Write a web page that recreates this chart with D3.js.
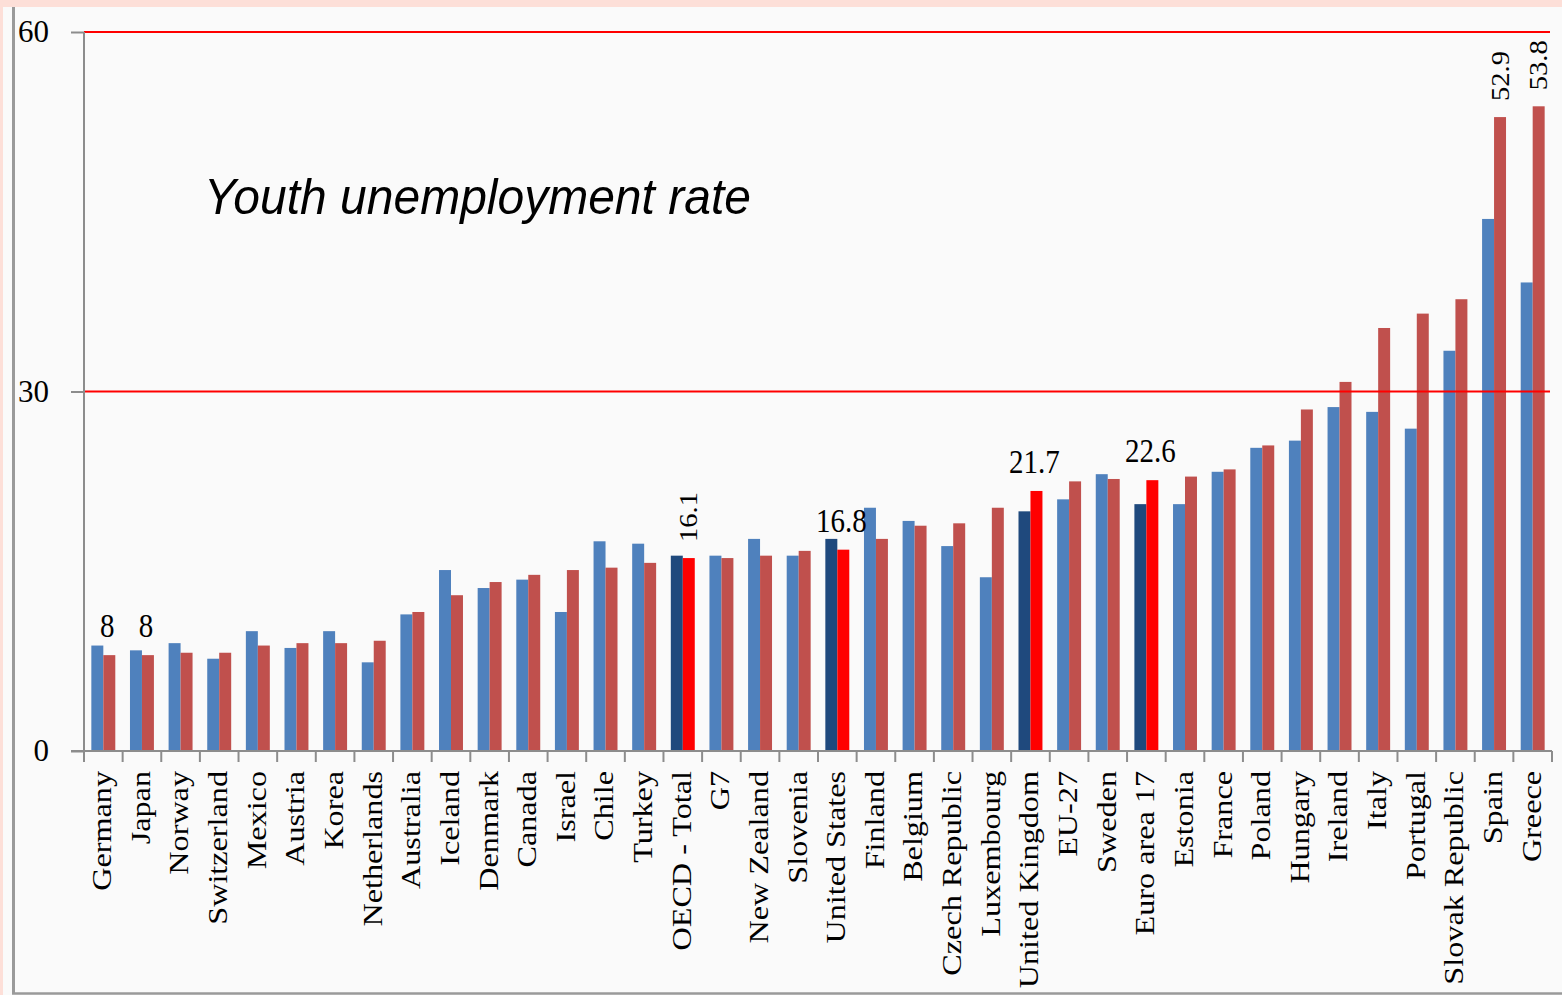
<!DOCTYPE html>
<html>
<head>
<meta charset="utf-8">
<script src="https://cdn.jsdelivr.net/npm/d3@7"></script>
<style>
  html, body { margin: 0; padding: 0; background: #FDDFD8; }
  svg { display: block; }
</style>
</head>
<body>
<svg id="chart" width="1562" height="995"></svg>
<script>
// ---- data ----
const categories = ["Germany","Japan","Norway","Switzerland","Mexico","Austria","Korea","Netherlands","Australia","Iceland","Denmark","Canada","Israel","Chile","Turkey","OECD - Total","G7","New Zealand","Slovenia","United States","Finland","Belgium","Czech Republic","Luxembourg","United Kingdom","EU-27","Sweden","Euro area 17","Estonia","France","Poland","Hungary","Ireland","Italy","Portugal","Slovak Republic","Spain","Greece"];
const earlierRate = [8.8,8.4,9.0,7.7,10.0,8.6,10.0,7.4,11.4,15.1,13.6,14.3,11.6,17.5,17.3,16.3,16.3,17.7,16.3,17.7,20.3,19.2,17.1,14.5,20.0,21.0,23.1,20.6,20.6,23.3,25.3,25.9,28.7,28.3,26.9,33.4,44.4,39.1];
const latestRate = [8.0,8.0,8.2,8.2,8.8,9.0,9.0,9.2,11.6,13.0,14.1,14.7,15.1,15.3,15.7,16.1,16.1,16.3,16.7,16.8,17.7,18.8,19.0,20.3,21.7,22.5,22.7,22.6,22.9,23.5,25.5,28.5,30.8,35.3,36.5,37.7,52.9,53.8];
const highlighted = ["OECD - Total","United States","United Kingdom","Euro area 17"];
const labelsHorizontal = ["Germany","Japan","United States","United Kingdom","Euro area 17"];
const labelsVertical = ["OECD - Total","Spain","Greece"];
const yTicks = [0, 30, 60];
const redLines = [30, 60];
const title = "Youth unemployment rate";

(function () {
// ---- layout ----
const svg = d3.select("#chart");
const W = 1562, H = 995;
const mLeft = 84, mRight = 1552, mTop = 32, mBottom = 751;
const serif = "'Liberation Serif', 'Times New Roman', serif";
const stretch = 1.15;

// panel
svg.append("rect").attr("x", 3).attr("y", 7).attr("width", W - 3).attr("height", H - 7).attr("fill", "#FAFAFA");
svg.append("line").attr("x1", 13.5).attr("x2", 13.5).attr("y1", 7).attr("y2", 994)
  .attr("stroke", "#9a9a9a").attr("stroke-width", 3);
svg.append("line").attr("x1", 12).attr("x2", W).attr("y1", 993.5).attr("y2", 993.5)
  .attr("stroke", "#9a9a9a").attr("stroke-width", 2.5);

const x = d3.scaleBand().domain(categories).range([mLeft, mRight]).padding(0);
const inner = x.bandwidth() * 0.62;
const x1 = d3.scaleBand().domain(["earlier", "latest"])
  .range([(x.bandwidth() - inner) / 2, (x.bandwidth() + inner) / 2]).padding(0);
const y = d3.scaleLinear().domain([0, 60]).range([mBottom, mTop]);

const rows = categories.map((c, i) => ({ c, a: earlierRate[i], b: latestRate[i], hi: highlighted.includes(c) }));

// bars
const g = svg.append("g");
rows.forEach(r => {
  g.append("rect")
    .attr("x", x(r.c) + x1("earlier")).attr("width", x1.bandwidth())
    .attr("y", y(r.a)).attr("height", y(0) - y(r.a))
    .attr("fill", r.hi ? "#1F497D" : "#4F81BD");
  g.append("rect")
    .attr("x", x(r.c) + x1("latest")).attr("width", x1.bandwidth())
    .attr("y", y(r.b)).attr("height", y(0) - y(r.b))
    .attr("fill", r.hi ? "#FF0000" : "#C0504D");
});

// red reference lines
redLines.forEach(v => {
  svg.append("line").attr("x1", mLeft).attr("x2", 1550).attr("y1", y(v)).attr("y2", y(v))
    .attr("stroke", "#FF0000").attr("stroke-width", 2);
});

// y axis
const yAxis = svg.append("g").attr("transform", `translate(${mLeft},0)`)
  .call(d3.axisLeft(y).tickValues(yTicks).tickSize(13).tickPadding(22).tickFormat(d3.format("d")));
yAxis.select(".domain").attr("stroke", "#8c8c8c").attr("stroke-width", 2)
  .attr("d", `M0,${mTop}V${mBottom}`);
yAxis.selectAll(".tick line").attr("stroke", "#8c8c8c").attr("stroke-width", 2);
yAxis.selectAll(".tick text").attr("fill", "#000").style("font-family", serif).style("font-size", "31px")
  .attr("dy", "0.32em");

// x axis
svg.append("line").attr("x1", mLeft - 13).attr("x2", mRight).attr("y1", mBottom).attr("y2", mBottom)
  .attr("stroke", "#8c8c8c").attr("stroke-width", 2);
const bounds = categories.map(c => x(c)).concat([x.range()[1]]);
bounds.forEach(bx => {
  svg.append("line").attr("x1", bx).attr("x2", bx).attr("y1", mBottom).attr("y2", mBottom + 11)
    .attr("stroke", "#8c8c8c").attr("stroke-width", 2);
});
categories.forEach(c => {
  const cx = x(c) + x.bandwidth() / 2 - 0.5;
  svg.append("text")
    .attr("transform", `translate(${cx},${mBottom + 20}) scale(1,${stretch}) rotate(-90)`)
    .attr("text-anchor", "end").attr("dy", "0.3em")
    .style("font-family", serif).style("font-size", "28px").attr("fill", "#000")
    .text(c);
});

// data labels
rows.forEach(r => {
  const rx = x(r.c) + x1("latest") + x1.bandwidth() / 2;
  if (labelsHorizontal.includes(r.c)) {
    svg.append("text")
      .attr("transform", `translate(${rx - 2},${y(r.b) - 18}) scale(1,${stretch})`)
      .attr("text-anchor", "middle")
      .style("font-family", serif).style("font-size", "29px").attr("fill", "#000")
      .text(String(r.b));
  }
  if (labelsVertical.includes(r.c)) {
    svg.append("text")
      .attr("transform", `translate(${rx},${y(r.b) - 16}) scale(1,1.1) rotate(-90)`)
      .attr("text-anchor", "start").attr("dy", "0.33em")
      .style("font-family", serif).style("font-size", "26px").attr("fill", "#000")
      .text(String(r.b));
  }
});

// title
svg.append("text")
  .attr("transform", "translate(204,214) scale(1,1.06)")
  .style("font-family", "'Liberation Sans', Arial, sans-serif").style("font-style", "italic")
  .style("font-size", "48px").attr("fill", "#000")
  .text(title);
})();
</script>
</body>
</html>
